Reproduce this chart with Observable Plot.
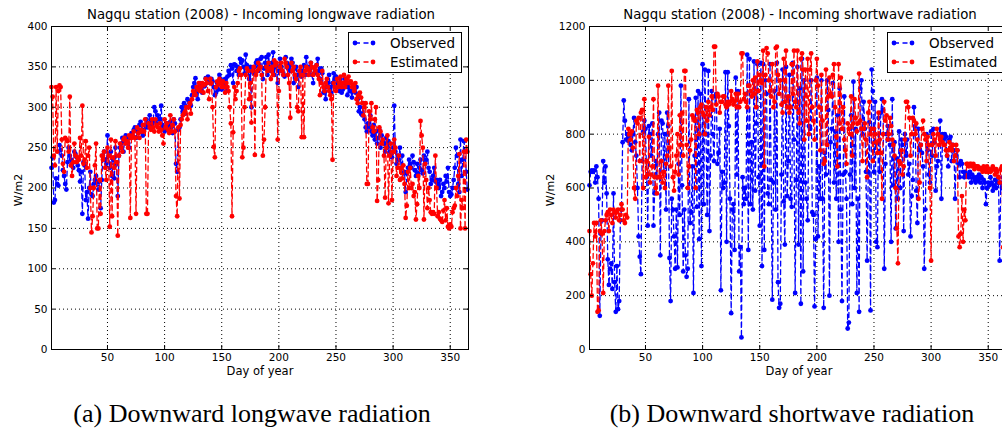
<!DOCTYPE html>
<html><head><meta charset="utf-8">
<script src="https://cdn.jsdelivr.net/npm/d3@7"></script>
<script src="https://cdn.jsdelivr.net/npm/@observablehq/plot@0.6"></script>
<style>
html,body{margin:0;padding:0;width:1002px;height:430px;overflow:hidden;background:#fff;font-family:"DejaVu Sans",sans-serif;}
#root{position:relative;width:1002px;height:430px;overflow:hidden;}
.abs{position:absolute;white-space:nowrap;color:#000;}
.title{font-size:13.3px;transform:translate(-50%,-50%);}
.xlab{font-size:11.5px;transform:translate(-50%,-50%);}
.ylab{font-size:11px;transform:translate(-50%,-50%) rotate(-90deg);}
.cap{font-family:"Liberation Serif","Times New Roman",serif;font-size:26px;transform:translate(-50%,-50%);}
</style></head>
<body><div id="root"></div>
<script>
// ---- tick values ----
const xTicks = [50,100,150,200,250,300,350];
const lwTicks = [0,50,100,150,200,250,300,350,400];
const swTicks = [0,200,400,600,800,1000,1200];

// ---- (a) Longwave, observed (day 1..365) ----
const lwObserved = [
225,238,182,185,212,205,203,253,247,240,
222,215,205,198,232,250,240,235,230,225,
245,242,238,228,222,208,220,168,232,228,
185,195,162,200,220,192,190,205,210,215,
207,198,208,175,210,240,245,235,230,265,
240,225,245,215,235,212,250,230,190,240,
250,255,262,245,258,265,262,255,250,262,
268,265,272,275,262,270,268,278,282,270,
265,272,278,285,275,280,290,275,278,283,
300,295,280,290,285,285,302,278,275,270,
272,280,278,275,282,275,268,285,280,230,
220,272,275,285,300,295,305,292,300,310,
308,305,302,315,325,330,336,320,310,325,
330,322,318,328,326,336,330,338,332,330,
335,332,325,315,318,330,322,340,335,322,
330,325,335,320,338,345,340,352,348,330,
353,352,345,350,340,360,355,358,350,342,
365,352,345,335,350,300,345,342,350,355,
358,345,352,360,362,335,348,355,362,340,
365,350,345,355,368,340,350,352,330,345,
360,350,345,340,338,362,355,348,352,345,
360,355,330,348,350,340,325,345,340,338,
345,352,340,362,348,350,345,355,340,330,
342,345,352,360,345,335,348,342,318,320,
310,325,330,340,325,318,330,342,335,338,
330,325,320,335,318,322,330,335,328,315,
325,320,320,312,325,320,318,325,310,295,
300,292,290,305,285,275,270,280,275,290,
270,265,278,260,270,255,262,272,250,265,
258,255,245,262,250,258,245,240,238,250,
302,245,230,240,235,250,225,240,218,220,
195,218,225,235,230,225,240,232,222,215,
230,218,225,235,222,218,240,230,235,245,
225,220,205,210,215,225,208,210,205,200,
210,190,195,205,200,215,208,225,195,190,
192,200,210,225,250,240,205,195,260,215,
235,258,245,220,198];

// ---- (a) Longwave, estimated ----
const lwEstimated = [
325,313,240,228,325,245,320,327,325,260,
230,220,262,260,258,245,313,228,215,232,
255,240,232,238,235,262,240,302,230,235,
258,225,240,250,200,145,165,200,228,255,
150,150,210,168,240,235,245,225,210,250,
240,152,260,165,238,225,258,232,141,240,
255,250,245,260,262,255,258,250,265,163,
262,265,270,262,168,275,268,262,272,270,
278,270,285,168,168,280,275,272,285,275,
270,285,278,275,270,280,272,265,255,285,
275,280,272,268,290,270,278,285,270,190,
165,275,187,278,285,290,292,295,300,285,
300,305,292,310,320,318,315,325,322,330,
320,325,330,318,328,335,330,320,310,335,
330,300,251,238,325,332,328,335,330,325,
332,325,318,330,325,320,300,280,165,269,
325,310,320,330,345,348,340,238,250,300,
340,348,345,310,330,281,345,350,241,340,
345,355,348,350,340,240,260,300,350,345,
355,348,335,350,340,358,352,355,260,320,
350,355,345,340,360,355,350,340,330,287,
355,345,350,340,335,300,295,345,350,263,
340,263,345,350,348,340,345,355,350,340,
348,345,352,340,335,315,330,345,325,320,
330,335,325,320,315,310,235,330,325,320,
335,325,330,338,325,330,340,325,335,330,
338,330,332,325,328,320,330,310,305,315,
318,312,305,290,300,305,205,205,295,285,
305,275,270,285,300,184,210,275,270,255,
260,240,188,250,265,181,240,255,185,245,
260,250,215,225,240,210,225,212,228,205,
163,178,220,200,225,200,205,190,195,161,
180,215,200,283,265,250,161,230,210,175,
200,185,170,168,170,168,240,200,165,170,
162,160,158,172,185,160,175,152,150,155,
152,170,175,178,200,190,215,242,150,185,
175,245,150,260,245];

// ---- (b) Shortwave, observed ----
const swObserved = [
610,660,665,660,665,620,680,640,560,125,
430,480,700,620,680,580,335,240,300,320,
225,580,250,140,310,150,180,480,520,770,
925,850,780,800,775,790,760,740,800,860,
770,720,600,420,345,280,700,810,850,820,
640,460,830,800,720,840,460,580,700,640,
800,880,350,850,840,660,800,520,880,830,
340,180,560,520,420,300,520,305,690,500,
980,610,290,520,350,270,300,930,470,510,
680,210,720,935,530,960,410,950,310,1060,
540,1040,800,500,1035,440,720,960,800,700,
940,950,690,730,820,220,660,600,620,1030,
400,1030,830,560,135,520,540,370,1010,650,
960,290,380,45,640,540,600,560,1095,370,
1080,540,770,520,1070,590,840,1060,640,460,
1065,310,1060,370,1000,950,580,540,1060,630,
185,620,960,520,1065,250,155,170,650,1040,
550,390,1050,570,700,1020,560,530,1065,780,
210,630,1050,390,970,170,1080,290,1000,620,
560,480,830,820,1000,510,500,160,410,1010,
420,680,560,1000,560,155,730,650,1000,890,
200,770,820,990,620,810,560,870,400,970,
520,180,650,940,660,560,78,100,650,870,
540,995,600,820,210,560,140,970,1000,800,
920,820,660,330,660,845,145,1040,960,660,
920,400,380,860,660,880,930,890,300,690,
800,830,780,760,400,930,610,770,450,710,
560,810,600,780,760,440,800,720,780,650,
690,420,570,630,900,830,590,470,820,740,
760,730,680,300,520,800,740,650,620,810,
720,820,770,590,680,700,800,850,560,800,
780,800,790,720,680,780,790,700,760,740,
560,720,740,690,640,700,690,660,640,660,
650,650,640,660,620,650,640,630,620,640,
630,650,620,640,600,630,620,540,600,620,
610,640,620,590,610,630,600,620,640,330,
620,600,640,580,360];

// ---- (b) Shortwave, estimated ----
const swEstimated = [
440,280,200,320,470,420,470,140,145,440,
480,430,210,440,480,500,510,440,520,500,
470,520,510,490,510,520,480,500,540,520,
480,470,500,490,820,800,780,810,750,600,
560,850,840,860,700,880,890,600,930,640,
700,650,790,620,650,680,930,640,600,580,
980,640,640,700,620,660,600,690,720,980,
750,680,1035,640,590,660,720,800,650,870,
760,880,720,1035,1035,760,600,680,740,780,
870,860,850,600,890,880,800,900,910,880,
870,800,900,850,920,870,900,940,890,1125,
1125,910,950,940,880,920,920,940,940,910,
900,920,910,920,960,930,910,920,950,900,
950,900,920,1100,1100,930,950,920,900,980,
980,960,940,1000,950,1010,900,1070,960,1020,
1000,990,1110,680,1020,1120,1100,1000,960,940,
1060,900,920,1120,1125,1020,950,1000,910,880,
1080,920,1110,900,940,880,900,1060,950,1110,
920,900,1110,880,840,1080,1100,1040,780,1040,
850,1080,800,1040,1100,900,850,780,1000,1080,
980,900,740,1020,850,690,700,1040,760,940,
1010,950,940,1020,1060,900,790,680,1060,840,
1010,820,900,780,740,690,840,820,800,940,
720,840,930,860,810,840,1025,850,820,700,
820,840,780,640,880,920,800,820,700,820,
800,770,730,880,780,730,560,800,920,850,
870,780,800,860,830,780,760,720,600,450,
320,700,690,740,650,680,780,920,920,900,
860,720,800,860,850,800,840,780,560,620,
760,820,850,800,780,700,790,760,600,330,
760,800,780,720,820,800,760,780,790,770,
760,760,740,720,740,770,750,740,760,700,
720,760,740,420,380,430,570,400,520,480,
690,690,680,690,690,680,690,670,680,680,
680,670,675,670,660,680,670,660,680,660,
670,660,665,680,670,650,670,660,640,620,
670,680,380,660,650];

const seriesNames = ["Observed","Estimated"];
const seriesColors = ["#0000ff","#ff0000"];

const FRAME_W = 417, FRAME_H = 323, TOP = 26, BOTTOM = 20;

function toRows(arr){ return arr.map((v,i)=>({day:i+1, v})); }

function panel(obs, est, yTicks, marginLeft, width){
  const yMax = yTicks[yTicks.length-1];
  const o = toRows(obs), e = toRows(est);
  const lineOpts = {x:"day", y:"v", strokeWidth:1.3, strokeDasharray:"5,3.5"};
  return Plot.plot({
    width, height: TOP + FRAME_H + BOTTOM,
    marginLeft, marginRight: width - marginLeft - FRAME_W,
    marginTop: TOP, marginBottom: BOTTOM,
    style:{fontFamily:"DejaVu Sans, sans-serif", fontSize:"10.5px", color:"#000", background:"transparent", overflow:"visible"},
    x:{domain:[1,366]},
    y:{domain:[0,yMax]},
    marks:[
      Plot.gridX(xTicks,{stroke:"#000", strokeOpacity:1, strokeWidth:1, strokeDasharray:"1,3"}),
      Plot.gridY(yTicks,{stroke:"#000", strokeOpacity:1, strokeWidth:1, strokeDasharray:"1,3"}),
      Plot.line(o,{...lineOpts, stroke:seriesColors[0]}),
      Plot.dot(o,{x:"day", y:"v", r:2.4, fill:seriesColors[0], stroke:"none"}),
      Plot.line(e,{...lineOpts, stroke:seriesColors[1]}),
      Plot.dot(e,{x:"day", y:"v", r:2.4, fill:seriesColors[1], stroke:"none"}),
      // inward ticks on all four sides
      Plot.ruleX(xTicks,{stroke:"#000", insetTop:FRAME_H-4}),
      Plot.ruleX(xTicks,{stroke:"#000", insetBottom:FRAME_H-4}),
      Plot.ruleY(yTicks,{stroke:"#000", insetRight:FRAME_W-4}),
      Plot.ruleY(yTicks,{stroke:"#000", insetLeft:FRAME_W-4}),
      Plot.axisX(xTicks,{tickSize:0, tickPadding:4, label:null, tickFormat:d3.format("d")}),
      Plot.axisY(yTicks,{tickSize:0, tickPadding:4, label:null, tickFormat:d3.format("d")}),
      Plot.frame({stroke:"#000", strokeWidth:1})
    ]
  });
}

const root = document.getElementById("root");
function place(el, left, top){ el.style.position="absolute"; el.style.left=left+"px"; el.style.top=top+"px"; root.appendChild(el); return el; }
function text(cls, str, x, y){ const d=document.createElement("div"); d.className="abs "+cls; d.textContent=str; d.style.left=x+"px"; d.style.top=y+"px"; root.appendChild(d); return d; }

function legend(x, y, w){
  const ns="http://www.w3.org/2000/svg";
  const svg=document.createElementNS(ns,"svg");
  svg.setAttribute("width",w); svg.setAttribute("height",42);
  let html = `<rect x="0.5" y="0.5" width="${w-1}" height="40" fill="#fff" stroke="#000" stroke-width="1"/>`;
  seriesNames.forEach((n,i)=>{
    const yy = 11 + i*19;
    html += `<line x1="7" x2="25" y1="${yy}" y2="${yy}" stroke="${seriesColors[i]}" stroke-width="1.3" stroke-dasharray="5,3.5"/>`;
    html += `<circle cx="7" cy="${yy}" r="2.4" fill="${seriesColors[i]}"/><circle cx="25" cy="${yy}" r="2.4" fill="${seriesColors[i]}"/>`;
    html += `<text x="42" y="${yy+5}" font-family="DejaVu Sans, sans-serif" font-size="13.5" fill="#000">${n}</text>`;
  });
  svg.innerHTML = html;
  place(svg, x, y);
}

place(panel(lwObserved, lwEstimated, lwTicks, 51, 500), 0, 0);
place(panel(swObserved, swEstimated, swTicks, 89, 520), 500, 0);

text("title","Nagqu station (2008) - Incoming longwave radiation",261,14);
text("title","Nagqu station (2008) - Incoming shortwave radiation",800,14);
text("xlab","Day of year",260,371);
text("xlab","Day of year",799,371);
text("ylab","W/m2",18,190);
text("ylab","W/m2",550,190);
text("cap","(a) Downward longwave radiation",252,414);
text("cap","(b) Downward shortwave radiation",792,414);

legend(348,32,114);
legend(887,32,130);
</script>
</body></html>
